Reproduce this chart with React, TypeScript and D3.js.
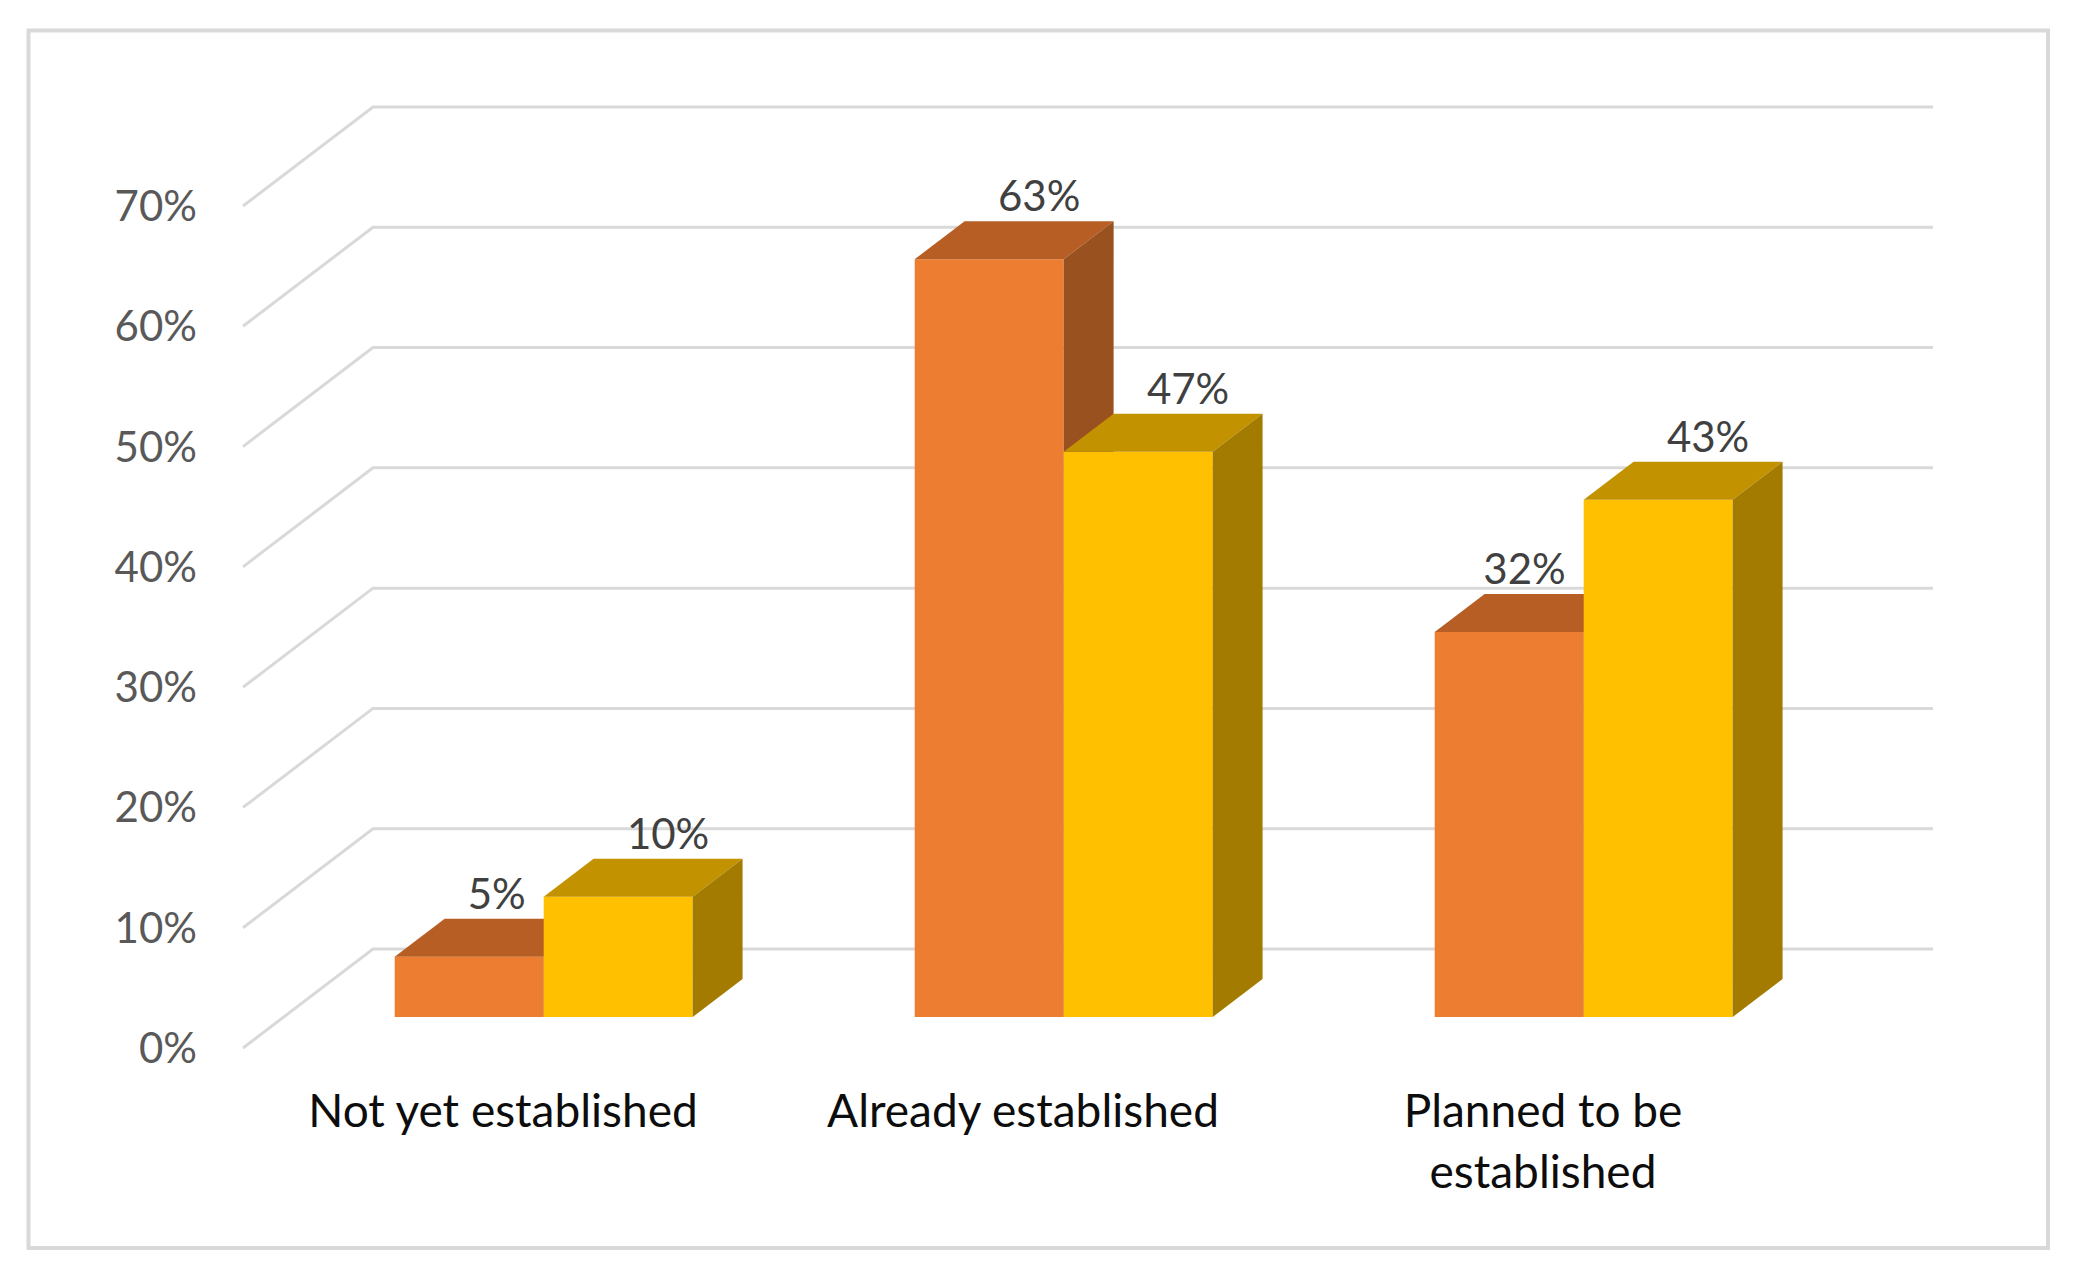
import { useRef, useEffect } from 'react';
import * as d3 from 'd3';

const CATEGORIES = ['Not yet established', 'Already established', 'Planned to be established'];
const SERIES = ['s1', 's2'];
const SERIES_1 = [0.05, 0.63, 0.32];
const SERIES_2 = [0.1, 0.47, 0.43];
const Y_TICKS = [0, 0.1, 0.2, 0.3, 0.4, 0.5, 0.6, 0.7];

const FRONT = ['#ED7D31', '#FFC000'];
const TOP = ['#B65E24', '#C29200'];
const SIDE = ['#9A5120', '#A37B00'];

const FONT = 'Lato, "Open Sans", sans-serif';

export default function App() {
  const svgRef = useRef<SVGSVGElement>(null);

  useEffect(() => {
    if (!svgRef.current) return;
    const svg = d3.select(svgRef.current);
    svg.selectAll('*').remove();

    const W = 2080;
    const H = 1277;
    svg.attr('width', W).attr('height', H);

    // outer frame
    svg
      .append('rect')
      .attr('x', 28.5)
      .attr('y', 30.5)
      .attr('width', 2019.5)
      .attr('height', 1217.5)
      .attr('fill', '#fff')
      .attr('stroke', '#d9d9d9')
      .attr('stroke-width', 4);

    // 3D box: front plane from x0..x1, depth vector (DX, DY)
    const X0 = 243;
    const X1 = 1803;
    const DX = 130;
    const DY = -99;
    const T0 = 0.313;
    const T1 = 0.697;

    const y = d3.scaleLinear().domain([0, 0.7]).range([1048, 206]);
    const x = d3
      .scaleBand<string>()
      .domain(CATEGORIES)
      .range([X0, X1])
      .paddingInner(0.427)
      .paddingOuter(0.2135);
    const xs = d3.scaleBand<string>().domain(SERIES).range([0, x.bandwidth()]);

    const proj = (px: number, v: number, t: number): [number, number] => [px + DX * t, y(v) + DY * t];
    const poly = (pts: [number, number][]) => 'M' + pts.map((p) => p.join(',')).join('L') + 'Z';

    // gridlines (left wall + back wall)
    svg
      .append('g')
      .selectAll('path')
      .data(Y_TICKS)
      .join('path')
      .attr('d', (v) => {
        const a = proj(X0, v, 0);
        const b = proj(X0, v, 1);
        const c = proj(X1, v, 1);
        return `M${a}L${b}L${c}`;
      })
      .attr('fill', 'none')
      .attr('stroke', '#d9d9d9')
      .attr('stroke-width', 3);

    // y tick labels
    svg
      .append('g')
      .selectAll('text')
      .data(Y_TICKS)
      .join('text')
      .attr('x', 197)
      .attr('y', (v) => y(v) + 15)
      .attr('text-anchor', 'end')
      .attr('fill', '#595959')
      .attr('font-family', FONT)
      .attr('font-size', 42)
      .text((v) => d3.format('.0%')(v));

    const values = [SERIES_1, SERIES_2];
    const bars = svg.append('g');
    const labels = svg.append('g');

    CATEGORIES.forEach((cat, i) => {
      SERIES.forEach((key, j) => {
        const v = values[j][i];
        const bx0 = (x(cat) ?? 0) + (xs(key) ?? 0);
        const bx1 = bx0 + xs.bandwidth();
        const g = bars.append('g');
        g.append('path')
          .attr('d', poly([proj(bx0, 0, T0), proj(bx1, 0, T0), proj(bx1, v, T0), proj(bx0, v, T0)]))
          .attr('fill', FRONT[j]);
        g.append('path')
          .attr('d', poly([proj(bx0, v, T0), proj(bx1, v, T0), proj(bx1, v, T1), proj(bx0, v, T1)]))
          .attr('fill', TOP[j]);
        g.append('path')
          .attr('d', poly([proj(bx1, 0, T0), proj(bx1, 0, T1), proj(bx1, v, T1), proj(bx1, v, T0)]))
          .attr('fill', SIDE[j]);

        // data label above the back top edge
        const [cx, cy] = proj((bx0 + bx1) / 2, v, T1);
        const t = labels
          .append('text')
          .attr('x', cx)
          .attr('y', cy - 10)
          .attr('text-anchor', 'middle')
          .attr('fill', '#404040')
          .attr('font-family', FONT)
          .attr('font-size', 42)
          .text(d3.format('.0%')(v));

        // nudge left if the neighbouring bar is taller and would cover it
        if (j < SERIES.length - 1 && values[j + 1][i] > v) {
          const limit = proj(bx1, v, T0)[0] - 18;
          t.attr('text-anchor', 'end').attr('x', limit);
        }
      });
    });

    // category labels with wrapping
    const catG = svg.append('g');
    CATEGORIES.forEach((cat) => {
      const cx = (x(cat) ?? 0) + x.bandwidth() / 2;
      const text = catG
        .append('text')
        .attr('text-anchor', 'middle')
        .attr('fill', '#0d0d0d')
        .attr('font-family', FONT)
        .attr('font-size', 46);
      const words = cat.split(' ');
      const lines: string[] = [];
      let line: string[] = [];
      const probe = text.append('tspan');
      words.forEach((w) => {
        const test = [...line, w].join(' ');
        probe.text(test);
        if ((probe.node() as SVGTSpanElement).getComputedTextLength() > 480 && line.length) {
          lines.push(line.join(' '));
          line = [w];
        } else {
          line.push(w);
        }
      });
      lines.push(line.join(' '));
      probe.remove();
      lines.forEach((l, k) => {
        text
          .append('tspan')
          .attr('x', cx)
          .attr('y', 1127 + k * 61)
          .text(l);
      });
    });
  }, []);

  return <svg ref={svgRef} style={{ position: 'absolute', left: 0, top: 0, display: 'block' }} />;
}
